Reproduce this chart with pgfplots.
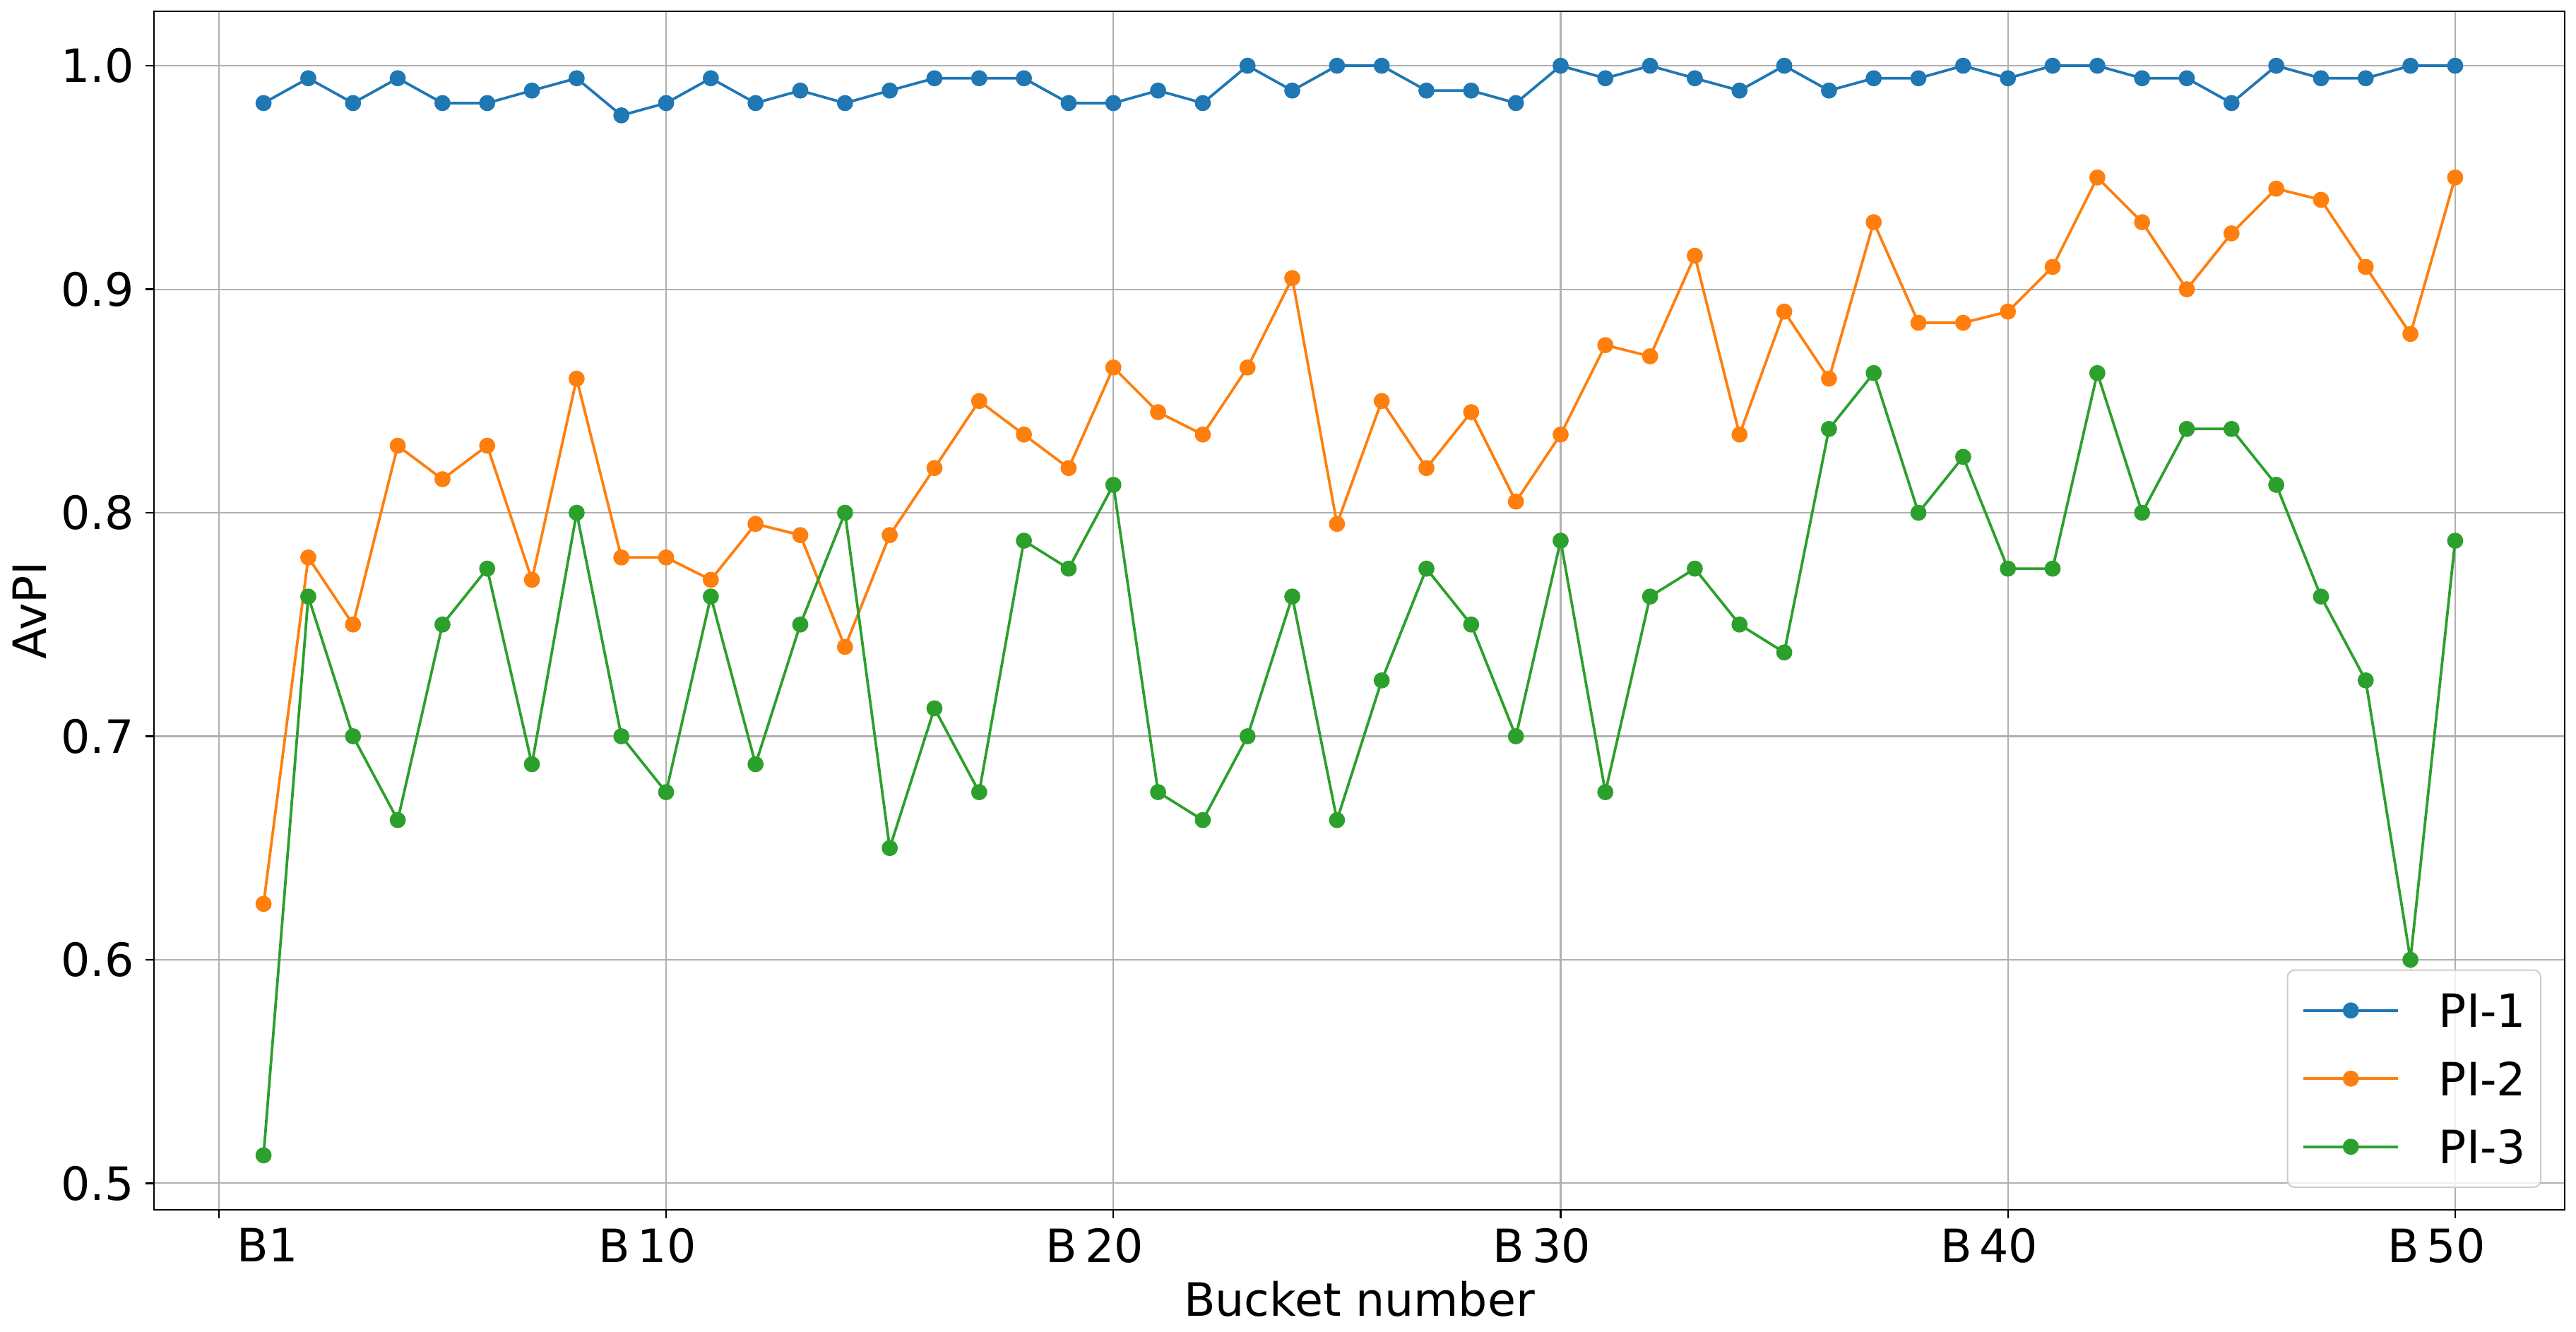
\documentclass[border=0pt]{standalone}
\usepackage{fontspec}
\setmainfont{DejaVu Sans}
\usepackage{pgfplots}
\usepackage{pgfplotstable}
\pgfplotsset{compat=1.18}

\definecolor{c0}{HTML}{1F77B4}
\definecolor{c1}{HTML}{FF7F0E}
\definecolor{c2}{HTML}{2CA02C}
\definecolor{gridc}{HTML}{B0B0B0}
\definecolor{legc}{HTML}{CCCCCC}

% PI-1
\pgfplotstableread{
x y
1 0.9833
2 0.9944
3 0.9833
4 0.9944
5 0.9833
6 0.9833
7 0.9889
8 0.9944
9 0.9778
10 0.9833
11 0.9944
12 0.9833
13 0.9889
14 0.9833
15 0.9889
16 0.9944
17 0.9944
18 0.9944
19 0.9833
20 0.9833
21 0.9889
22 0.9833
23 1.0
24 0.9889
25 1.0
26 1.0
27 0.9889
28 0.9889
29 0.9833
30 1.0
31 0.9944
32 1.0
33 0.9944
34 0.9889
35 1.0
36 0.9889
37 0.9944
38 0.9944
39 1.0
40 0.9944
41 1.0
42 1.0
43 0.9944
44 0.9944
45 0.9833
46 1.0
47 0.9944
48 0.9944
49 1.0
50 1.0
}\pione

% PI-2
\pgfplotstableread{
x y
1 0.625
2 0.78
3 0.75
4 0.83
5 0.815
6 0.83
7 0.77
8 0.86
9 0.78
10 0.78
11 0.77
12 0.795
13 0.79
14 0.74
15 0.79
16 0.82
17 0.85
18 0.835
19 0.82
20 0.865
21 0.845
22 0.835
23 0.865
24 0.905
25 0.795
26 0.85
27 0.82
28 0.845
29 0.805
30 0.835
31 0.875
32 0.87
33 0.915
34 0.835
35 0.89
36 0.86
37 0.93
38 0.885
39 0.885
40 0.89
41 0.91
42 0.95
43 0.93
44 0.9
45 0.925
46 0.945
47 0.94
48 0.91
49 0.88
50 0.95
}\pitwo

% PI-3
\pgfplotstableread{
x y
1 0.5125
2 0.7625
3 0.7
4 0.6625
5 0.75
6 0.775
7 0.6875
8 0.8
9 0.7
10 0.675
11 0.7625
12 0.6875
13 0.75
14 0.8
15 0.65
16 0.7125
17 0.675
18 0.7875
19 0.775
20 0.8125
21 0.675
22 0.6625
23 0.7
24 0.7625
25 0.6625
26 0.725
27 0.775
28 0.75
29 0.7
30 0.7875
31 0.675
32 0.7625
33 0.775
34 0.75
35 0.7375
36 0.8375
37 0.8625
38 0.8
39 0.825
40 0.775
41 0.775
42 0.8625
43 0.8
44 0.8375
45 0.8375
46 0.8125
47 0.7625
48 0.725
49 0.6
50 0.7875
}\pithree

\begin{document}
\begin{tikzpicture}[font=\fontsize{13pt}{15.6pt}\selectfont]
\begin{axis}[
    scale only axis,
    width=682.6pt, height=339.4pt,
    xmin=-1.45, xmax=52.45,
    ymin=0.488125, ymax=1.024375,
    xtick={0,10,20,30,40,50},
    xticklabels={\hspace*{27.6pt}B1, B\,10\hspace*{10.6pt}, B\,20\hspace*{10.6pt}, B\,30\hspace*{10.6pt}, B\,40\hspace*{10.6pt}, B\,50\hspace*{10.6pt}},
    ytick={0.5,0.6,0.7,0.8,0.9,1.0},
    yticklabels={0.5,0.6,0.7,0.8,0.9,1.0},
    tick pos=left, tick align=outside,
    major tick length=2.4pt,
    tick style={black, line width=0.45pt},
    axis line style={line width=0.45pt},
    grid=major,
    major grid style={gridc, line width=0.42pt},
    xticklabel style={anchor=north, inner sep=0pt, yshift=-2.6pt},
    yticklabel style={anchor=east, inner sep=0pt, xshift=-3pt},
    xlabel={Bucket number},
    ylabel={AvPI},
    xlabel style={at={(axis description cs:0.5,-0.0884)}, anchor=base, inner sep=0pt},
    ylabel style={at={(axis description cs:-0.0516,0.5)}, anchor=center, inner sep=0pt},
    legend style={at={(axis description cs:0.99033,0.01827)}, anchor=south east,
      draw=legc, line width=0.4pt, rounded corners=2pt,
      fill=white, fill opacity=0.8, text opacity=1,
      inner xsep=4.2pt, inner ysep=6.7pt, row sep=9.8pt, column sep=11.2pt,
      nodes={inner sep=0pt, text height=9.5pt, text depth=0pt}},
    legend cell align=left,
    legend image code/.code={
      \draw[mark repeat=2, mark phase=2, fill opacity=1, draw opacity=1, #1]
        plot coordinates {(0pt,0pt) (13.35pt,0pt) (26.7pt,0pt)};},
    every axis plot/.append style={line width=0.75pt, mark=*, mark size=1.9pt},
]
\addplot[c0] table {\pione};
\addplot[c1] table {\pitwo};
\addplot[c2] table {\pithree};
\legend{PI-1,PI-2,PI-3}
\end{axis}
\pgfresetboundingbox
\path[use as bounding box] ([xshift=-43.6pt,yshift=-34.4pt]current axis.south west) rectangle ([xshift=3.2pt,yshift=3.2pt]current axis.north east);
\end{tikzpicture}
\end{document}
